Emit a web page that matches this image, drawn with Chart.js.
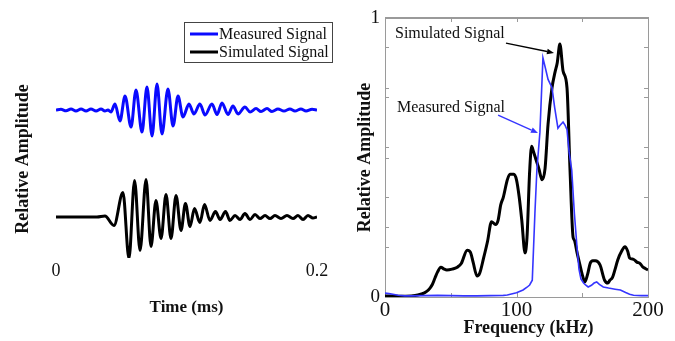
<!DOCTYPE html>
<html><head><meta charset="utf-8">
<script src="https://cdn.jsdelivr.net/npm/chart.js@4"></script>
<style>
html,body{margin:0;padding:0;background:#fff;}
#wrap{position:relative;width:675px;height:341px;overflow:hidden;background:#fff;}
.c{position:absolute;top:0;}
</style></head><body>
<div id="wrap">
<div class="c" style="left:0;"><canvas id="timeChart" width="340" height="341"></canvas></div>
<div class="c" style="left:340px;"><canvas id="freqChart" width="335" height="341"></canvas></div>
</div>
<script>
// ---------- Left panel: time-domain traces ----------
const SERIES_LABELS = ['Measured Signal', 'Simulated Signal'];
const TIME_TICKS = [0, 0.2];
const TIME_MS_MEASURED = [0, 0.0038, 0.0077, 0.0115, 0.0153, 0.0192, 0.0230, 0.0268, 0.0307, 0.0345,
  0.0375, 0.0398, 0.0421, 0.0452, 0.0490, 0.0529, 0.0575, 0.0613, 0.0659, 0.0697,
  0.0736, 0.0774, 0.0812, 0.0858, 0.0897, 0.0935, 0.0973, 0.1019, 0.1057, 0.1103,
  0.1142, 0.1195, 0.1234, 0.1272, 0.1318, 0.1356, 0.1395, 0.1448, 0.1487, 0.1533,
  0.1571, 0.1617, 0.1655, 0.1701, 0.1747, 0.1793, 0.1831, 0.1877, 0.1916, 0.1962, 0.2];
const AMP_MEASURED = [0, 0.015, -0.015, 0.019, -0.019, 0.019, -0.019, 0.019, -0.019, 0.019,
  -0.019, 0, -0.037, 0.112, -0.206, 0.262, -0.318, 0.374, -0.411, 0.430,
  -0.486, 0.486, -0.449, 0.393, -0.299, 0.262, -0.131, 0.112, -0.075, 0.112,
  -0.093, 0.112, -0.084, 0.131, -0.084, 0.075, -0.075, 0.056, -0.037, 0.028,
  -0.028, 0.028, -0.028, 0.019, -0.019, 0.019, -0.019, 0.019, -0.019, 0.015, 0];
const TIME_MS_SIMULATED = [0, 0.0314, 0.0375, 0.0444, 0.0513, 0.0559, 0.0602, 0.0644, 0.0690, 0.0728,
  0.0766, 0.0805, 0.0843, 0.0881, 0.0920, 0.0958, 0.0992, 0.1027, 0.1061, 0.1103,
  0.1138, 0.1180, 0.1222, 0.1257, 0.1299, 0.1333, 0.1372, 0.1410, 0.1448, 0.1487,
  0.1525, 0.1563, 0.1602, 0.1640, 0.1678, 0.1724, 0.1770, 0.1816, 0.1854, 0.1893,
  0.1931, 0.1969, 0.2];
const AMP_SIMULATED = [0, 0, 0.019, -0.159, 0.458, -0.776, 0.682, -0.626, 0.701, -0.551,
  0.308, -0.402, 0.421, -0.402, 0.402, -0.252, 0.252, -0.178, 0.159, -0.103,
  0.234, -0.065, 0.103, -0.047, 0.103, -0.065, 0.028, -0.047, 0.065, -0.047,
  0.047, -0.028, 0.028, -0.028, 0.028, -0.028, 0.028, -0.028, 0.028, -0.047,
  0.028, -0.019, 0];
// vertical stacking of the two traces (measured above, simulated below)
const TRACE_OFFSETS = [1, -1];

// ---------- Right panel: spectra ----------
const FREQ_TICKS = [0, 50, 100, 150, 200];
const FREQ_TICK_LABELS = ['0', '', '100', '', '200'];
const AMP_TICKS = [0, 0.179, 0.25, 0.358, 0.5, 0.537, 0.716, 0.75, 0.895, 1];
const FREQ_SIMULATED = [0, 10, 20, 25, 30, 33, 36, 38, 40, 42.5,
  45, 47, 51, 55, 58, 62.5, 65, 67, 70, 72,
  75, 78, 81, 84, 86, 88, 90, 93, 95, 98,
  100, 102, 104, 106.5, 108, 110, 111.5, 113, 115, 117,
  119.5, 121.7, 124, 127, 129.3, 131, 133, 135.4, 138.4, 140.7,
  143, 144, 146, 148, 150, 152, 154, 156, 158, 160,
  163.5, 167, 169.5, 171, 173, 175, 177, 180, 182.5, 184.5,
  186, 189, 191.6, 194, 196, 198, 200];
const SPEC_SIMULATED = [0.004, 0.003, 0.004, 0.007, 0.015, 0.025, 0.045, 0.068, 0.09, 0.107,
  0.1, 0.097, 0.1, 0.107, 0.12, 0.168, 0.16, 0.125, 0.075, 0.085,
  0.14, 0.2, 0.27, 0.26, 0.275, 0.33, 0.358, 0.42, 0.44, 0.44,
  0.42, 0.36, 0.276, 0.158, 0.215, 0.45, 0.54, 0.52, 0.49, 0.46,
  0.42, 0.46, 0.62, 0.75, 0.806, 0.84, 0.907, 0.81, 0.75, 0.455,
  0.215, 0.204, 0.16, 0.12, 0.08, 0.054, 0.08, 0.12, 0.13, 0.13,
  0.115, 0.06, 0.05, 0.06, 0.07, 0.1, 0.133, 0.165, 0.18, 0.165,
  0.14, 0.135, 0.125, 0.12, 0.108, 0.102, 0.097];
const FREQ_MEASURED = [0, 3, 6, 10, 15, 20, 30, 40, 50, 60,
  70, 80, 90, 93, 100, 105, 108, 110, 112, 114,
  115.5, 117.8, 120.1, 122, 124, 127, 129, 131.5, 133, 135.4,
  137, 138.4, 140, 142, 144, 146, 147.5, 149, 151, 152.5,
  154.5, 157, 159, 161, 163, 166, 170, 175, 179, 183,
  186, 189, 195, 200];
const SPEC_MEASURED = [0.014, 0.012, 0.01, 0.006, 0.004, 0.004, 0.005, 0.006, 0.005, 0.004,
  0.004, 0.005, 0.006, 0.007, 0.015, 0.025, 0.035, 0.043, 0.06, 0.3,
  0.455, 0.59, 0.857, 0.82, 0.78, 0.75, 0.68, 0.605, 0.615, 0.627,
  0.615, 0.6, 0.52, 0.455, 0.3, 0.18, 0.1, 0.065, 0.05, 0.043,
  0.036, 0.042, 0.05, 0.054, 0.045, 0.036, 0.032, 0.028, 0.025, 0.016,
  0.01, 0.006, 0.005, 0.005];
// callouts: [kHz, amplitude]
const NOTE_TEXTS = ['Simulated Signal', 'Measured Signal'];
const NOTE_TEXT_AT = [[7.6, 0.943], [9.1, 0.677]];
const NOTE_ARROW_FROM = [[92, 0.91], [86, 0.652]];
const NOTE_ARROW_TO = [[128.5, 0.875], [116.3, 0.588]];

// ---------- styling ----------
const SERIF = "'Liberation Serif', 'Times New Roman', serif";
Chart.defaults.font.family = SERIF;
Chart.defaults.color = '#111';
Chart.defaults.animation = false;

const toXY = (xs, ys, off) => xs.map((v, i) => ({x: v, y: ys[i] + off}));

const boxedLegend = {
  id: 'boxedLegend',
  afterDraw(chart, args, o) {
    const ctx = chart.ctx;
    ctx.save();
    ctx.strokeStyle = o.borderColor; ctx.lineWidth = 1;
    ctx.strokeRect(o.left + 0.5, o.top + 0.5, o.width, o.height);
    ctx.font = o.font; ctx.textBaseline = 'middle'; ctx.textAlign = 'left'; ctx.fillStyle = '#111';
    chart.data.datasets.forEach((ds, i) => {
      const yy = o.top + o.firstRow + i * o.rowGap;
      ctx.strokeStyle = ds.borderColor; ctx.lineWidth = 3;
      ctx.beginPath(); ctx.moveTo(o.left + 6, yy); ctx.lineTo(o.left + 6 + o.lineLen, yy); ctx.stroke();
      ctx.fillText(ds.label, o.left + 7 + o.lineLen, yy + 1);
    });
    ctx.restore();
  }
};

new Chart(document.getElementById('timeChart'), {
  type: 'line',
  data: {
    datasets: [
      {label: SERIES_LABELS[0], data: toXY(TIME_MS_MEASURED, AMP_MEASURED, TRACE_OFFSETS[0]),
       borderColor: '#0a0aff', borderWidth: 3, pointRadius: 0, cubicInterpolationMode: 'monotone', fill: false},
      {label: SERIES_LABELS[1], data: toXY(TIME_MS_SIMULATED, AMP_SIMULATED, TRACE_OFFSETS[1]),
       borderColor: '#000000', borderWidth: 3, pointRadius: 0, cubicInterpolationMode: 'monotone', fill: false}
    ]
  },
  options: {
    responsive: false, devicePixelRatio: 1,
    layout: {padding: {top: 60, right: 23, bottom: 0, left: 0}},
    plugins: {
      legend: {display: false}, tooltip: {enabled: false},
      boxedLegend: {left: 184, top: 22, width: 148, height: 40, firstRow: 12, rowGap: 18,
        lineLen: 28, font: "16px " + SERIF, borderColor: '#444'}
    },
    scales: {
      x: {
        type: 'linear', min: 0, max: 0.2,
        afterBuildTicks: s => { s.ticks = TIME_TICKS.map(v => ({value: v})); },
        afterFit: s => { s.height = 83; },
        ticks: {autoSkip: false, maxRotation: 0, padding: 2, font: {size: 18}, color: '#111',
          callback: v => String(v)},
        grid: {display: false, drawTicks: false},
        border: {display: false},
        title: {display: true, text: 'Time (ms)', font: {size: 17, weight: 'bold'}, color: '#111',
          padding: {top: 0, bottom: 23}}
      },
      y: {
        type: 'linear', min: -1.766, max: 1.935,
        afterFit: s => { s.width = 56; },
        ticks: {display: false},
        grid: {display: false, drawTicks: false},
        border: {display: false},
        title: {display: true, text: 'Relative Amplitude', font: {size: 18, weight: 'bold'}, color: '#111',
          padding: {top: 13, bottom: 0}}
      }
    }
  },
  plugins: [boxedLegend]
});

const frameTicks = {
  id: 'frameTicks',
  beforeDatasetsDraw(chart, args, o) {
    const {ctx, chartArea: a, scales: {x, y}} = chart;
    ctx.save();
    ctx.strokeStyle = o.color; ctx.lineWidth = 1;
    ctx.strokeRect(a.left + 0.5, a.top + 0.5, a.right - a.left, a.bottom - a.top);
    ctx.beginPath(); ctx.moveTo(a.left, a.top - 0.5); ctx.lineTo(a.right + 1, a.top - 0.5); ctx.stroke();
    const L = o.length;
    ctx.beginPath();
    y.ticks.forEach(t => {
      if (t.value <= y.min || t.value >= y.max) return;
      const p = Math.round(y.getPixelForValue(t.value)) + 0.5;
      ctx.moveTo(a.left, p); ctx.lineTo(a.left + L, p);
      ctx.moveTo(a.right, p); ctx.lineTo(a.right - L, p);
    });
    x.ticks.forEach(t => {
      if (t.value <= x.min || t.value >= x.max) return;
      const p = Math.round(x.getPixelForValue(t.value)) + 0.5;
      ctx.moveTo(p, a.top); ctx.lineTo(p, a.top + L);
      ctx.moveTo(p, a.bottom); ctx.lineTo(p, a.bottom - L);
    });
    ctx.stroke();
    ctx.restore();
  }
};

// the x-axis title of the right panel sits a little right of the plot centre:
// shift the scale box only while the axes are drawn, restore before the datasets
const shiftXTitle = {
  id: 'shiftXTitle',
  beforeDraw(chart, args, o) { const x = chart.scales.x; x.left += o.dx; x.right += o.dx; },
  beforeDatasetsDraw(chart, args, o) { const x = chart.scales.x; x.left -= o.dx; x.right -= o.dx; }
};

const callouts = {
  id: 'callouts',
  afterDatasetsDraw(chart, args, o) {
    const {ctx, scales: {x, y}} = chart;
    ctx.save();
    ctx.font = o.font; ctx.textAlign = 'left'; ctx.textBaseline = 'middle';
    NOTE_TEXTS.forEach((txt, i) => {
      ctx.fillStyle = '#111';
      ctx.fillText(txt, x.getPixelForValue(NOTE_TEXT_AT[i][0]), y.getPixelForValue(NOTE_TEXT_AT[i][1]));
      const ds = chart.data.datasets.find(d => d.label === txt);
      const x0 = x.getPixelForValue(NOTE_ARROW_FROM[i][0]), y0 = y.getPixelForValue(NOTE_ARROW_FROM[i][1]);
      const x1 = x.getPixelForValue(NOTE_ARROW_TO[i][0]), y1 = y.getPixelForValue(NOTE_ARROW_TO[i][1]);
      const ang = Math.atan2(y1 - y0, x1 - x0), hl = 7, hw = 2.8;
      ctx.strokeStyle = ds.borderColor; ctx.fillStyle = ds.borderColor; ctx.lineWidth = 1.4;
      ctx.beginPath(); ctx.moveTo(x0, y0);
      ctx.lineTo(x1 - hl * Math.cos(ang), y1 - hl * Math.sin(ang)); ctx.stroke();
      ctx.beginPath(); ctx.moveTo(x1, y1);
      ctx.lineTo(x1 - hl * Math.cos(ang) + hw * Math.sin(ang), y1 - hl * Math.sin(ang) - hw * Math.cos(ang));
      ctx.lineTo(x1 - hl * Math.cos(ang) - hw * Math.sin(ang), y1 - hl * Math.sin(ang) + hw * Math.cos(ang));
      ctx.closePath(); ctx.fill();
    });
    ctx.restore();
  }
};

new Chart(document.getElementById('freqChart'), {
  type: 'line',
  data: {
    datasets: [
      {label: SERIES_LABELS[0], data: toXY(FREQ_MEASURED, SPEC_MEASURED, 0),
       borderColor: '#3535ff', borderWidth: 1.6, pointRadius: 0, tension: 0, fill: false, order: 0},
      {label: SERIES_LABELS[1], data: toXY(FREQ_SIMULATED, SPEC_SIMULATED, 0),
       borderColor: '#000000', borderWidth: 3, pointRadius: 0, cubicInterpolationMode: 'monotone', fill: false, order: 1}
    ]
  },
  options: {
    responsive: false, devicePixelRatio: 1,
    layout: {padding: {top: 18, right: 27, bottom: 0, left: 0}},
    plugins: {
      legend: {display: false}, tooltip: {enabled: false},
      frameTicks: {color: '#9a9a9a', length: 4},
      shiftXTitle: {dx: 12},
      callouts: {font: "16px " + SERIF}
    },
    scales: {
      x: {
        type: 'linear', min: 0, max: 200,
        afterBuildTicks: s => { s.ticks = FREQ_TICKS.map(v => ({value: v})); },
        afterFit: s => { s.height = 44; },
        ticks: {autoSkip: false, maxRotation: 0, padding: 1, font: {size: 21}, color: '#111',
          callback: (v, i) => FREQ_TICK_LABELS[i]},
        grid: {display: false, drawTicks: false},
        border: {display: false},
        title: {display: true, text: 'Frequency (kHz)', font: {size: 18, weight: 'bold'}, color: '#111',
          padding: {top: 0, bottom: 2}}
      },
      y: {
        type: 'linear', min: 0, max: 1,
        afterBuildTicks: s => { s.ticks = AMP_TICKS.map(v => ({value: v})); },
        afterFit: s => { s.width = 45; },
        ticks: {autoSkip: false, padding: 5, font: {size: 19}, color: '#111',
          callback: v => (v === 0 || v === 1) ? String(v) : ''},
        grid: {display: false, drawTicks: false},
        border: {display: false},
        title: {display: true, text: 'Relative Amplitude', font: {size: 18, weight: 'bold'}, color: '#111',
          padding: {top: 15, bottom: 0}}
      }
    }
  },
  plugins: [frameTicks, shiftXTitle, callouts]
});
</script>
</body></html>
